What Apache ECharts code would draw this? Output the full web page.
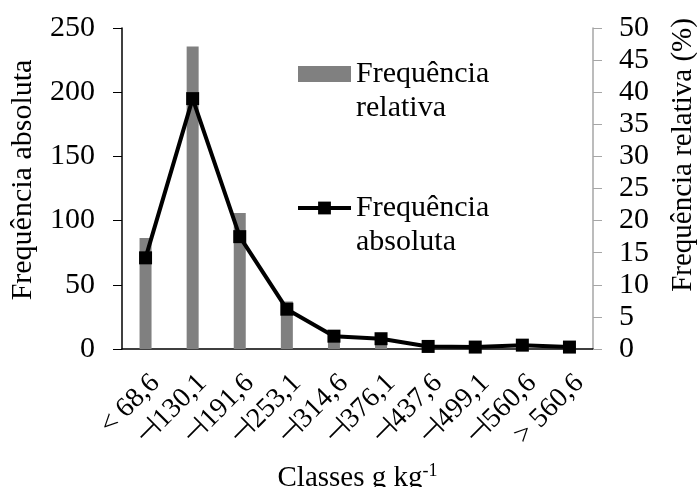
<!DOCTYPE html>
<html>
<head>
<meta charset="utf-8">
<script src="https://cdn.jsdelivr.net/npm/echarts@6/dist/echarts.min.js"></script>
<style>
  html, body { margin: 0; padding: 0; background: #fff; }
  #chart { width: 697px; height: 487px; }
</style>
</head>
<body>
<div id="chart"></div>
<script>
// classes (g kg-1)
const classes = ['< 68,6', '⊣130,1', '⊣191,6', '⊣253,1', '⊣314,6', '⊣376,1', '⊣437,6', '⊣499,1', '⊣560,6', '> 560,6']
// frequencia relativa (%), right axis
const relFreq = [17.3, 47.1, 21.2, 7.4, 2.4, 1.9, 0.5, 0.4, 0.7, 0.4]
// frequencia absoluta, left axis
const absFreq = [71, 195, 87.5, 31, 10, 8, 2, 1.5, 3, 1.5]

const font = '"Liberation Serif", "Times New Roman", serif'

const chart = echarts.init(document.getElementById('chart'))
chart.setOption({
    animation: false,
    textStyle: { fontFamily: font, color: '#000' },
    grid: { left: 122, right: 104, top: 28, bottom: 138, outerBoundsMode: 'none', containLabel: false },
    legend: {
        orient: 'vertical',
        left: 296,
        top: 25,
        padding: 0,
        itemWidth: 53,
        itemHeight: 16,
        itemGap: 36,
        // spacer line so the icon sits beside the first text line
        formatter: (name) => '{s| }\n' + name.split('\n').map(s => '{t|' + s + '}').join('\n'),
        textStyle: {
            color: '#000',
            rich: {
                s: { fontFamily: font, fontSize: 30, lineHeight: 34 },
                t: { fontFamily: font, fontSize: 30, lineHeight: 34, color: '#000' }
            }
        },
        data: [
            { name: 'Frequência\nrelativa', icon: 'rect' },
            { name: 'Frequência\nabsoluta', lineStyle: { width: 4, color: '#000' } }
        ]
    },
    xAxis: {
        type: 'category',
        data: classes,
        axisLine: { lineStyle: { color: '#000', width: 1.5 } },
        axisTick: { show: false },
        axisLabel: {
            rotate: 45,
            interval: 0,
            margin: 20,
            verticalAlign: 'top',
            fontFamily: font,
            fontSize: 28,
            color: '#000'
        },
        name: 'Classes g kg{sup|-1}',
        nameLocation: 'middle',
        nameGap: 113,
        nameTextStyle: {
            fontFamily: font,
            fontSize: 29,
            color: '#000',
            rich: { sup: { fontFamily: font, fontSize: 18, color: '#000', verticalAlign: 'top', padding: [0, 0, 14, 0] } }
        }
    },
    yAxis: [
        {
            type: 'value',
            min: 0,
            max: 250,
            interval: 50,
            splitLine: { show: false },
            axisLine: { show: true, lineStyle: { color: '#000', width: 1.5 } },
            axisTick: { show: true, length: 9, lineStyle: { color: '#000' } },
            axisLabel: { fontFamily: font, fontSize: 30, color: '#000', margin: 27 }
        },
        {
            type: 'value',
            min: 0,
            max: 50,
            interval: 5,
            position: 'right',
            splitLine: { show: false },
            axisLine: { show: true, lineStyle: { color: '#a6a6a6', width: 1.5 } },
            axisTick: { show: true, length: 9, lineStyle: { color: '#a6a6a6' } },
            axisLabel: { fontFamily: font, fontSize: 30, color: '#000', margin: 26 }
        }
    ],
    graphic: [
        {
            type: 'text',
            x: 23,
            y: 180,
            rotation: Math.PI / 2,
            style: { text: 'Frequência absoluta', font: '30px ' + font, fill: '#000', align: 'center', verticalAlign: 'middle' }
        },
        {
            type: 'text',
            x: 683,
            y: 155,
            rotation: Math.PI / 2,
            style: { text: 'Frequência relativa (%)', font: '29px ' + font, fill: '#000', align: 'center', verticalAlign: 'middle' }
        }
    ],
    series: [
        {
            name: 'Frequência\nrelativa',
            type: 'bar',
            yAxisIndex: 1,
            data: relFreq,
            barWidth: 12,
            itemStyle: { color: '#808080' }
        },
        {
            name: 'Frequência\nabsoluta',
            type: 'line',
            yAxisIndex: 0,
            data: absFreq,
            symbol: 'rect',
            symbolSize: 13,
            lineStyle: { color: '#000', width: 4 },
            itemStyle: { color: '#000' }
        }
    ]
})
</script>
</body>
</html>
